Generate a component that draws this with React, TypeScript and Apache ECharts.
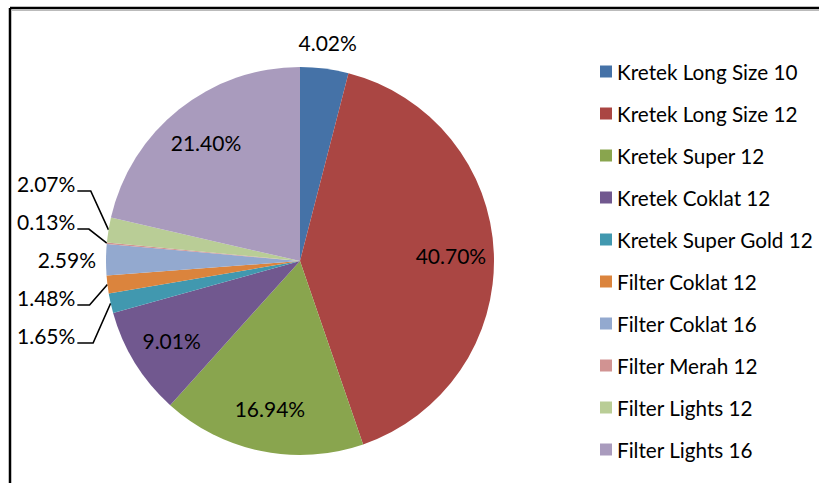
import React, { useEffect, useRef } from "react";
import * as echarts from "echarts";

const categories = [
  "Kretek Long Size 10",
  "Kretek Long Size 12",
  "Kretek Super 12",
  "Kretek Coklat 12",
  "Kretek Super Gold 12",
  "Filter Coklat 12",
  "Filter Coklat 16",
  "Filter Merah 12",
  "Filter Lights 12",
  "Filter Lights 16",
];
const shares = [4.02, 40.7, 16.94, 9.01, 1.65, 1.48, 2.59, 0.13, 2.07, 21.4];
const colors = [
  "#4572A7",
  "#AA4643",
  "#89A54E",
  "#71588F",
  "#4198AF",
  "#DB843D",
  "#93A9CF",
  "#D19392",
  "#B9CD96",
  "#A99BBD",
];
const insideLabelled = ["Kretek Long Size 12", "Kretek Super 12", "Kretek Coklat 12", "Filter Lights 16"];
const topLabelled = ["Kretek Long Size 10"];
const sideLabelled = ["Kretek Super Gold 12", "Filter Coklat 12", "Filter Coklat 16", "Filter Merah 12", "Filter Lights 12"];
const sideNoLine = ["Filter Coklat 16"];

const FONT = "Lato";
const FS = 21;
const LEGEND_FS = 20.7;
const fmt = (p: any) => `${Number(p.value).toFixed(2)}%`;
// trailing empty line lifts the text above the leader line, as in the reference
const sideFmt = (p: any) => `${Number(p.value).toFixed(2)}%\n`;

export default function App() {
  const ref = useRef<HTMLDivElement>(null);
  useEffect(() => {
    if (!ref.current) return;
    const chart = echarts.init(ref.current, null, { renderer: "svg" });
    const transparent = "rgba(0,0,0,0)";
    const hiddenSeries = (radius: number, names: string[]) => ({
      type: "pie",
      center: [300, 261],
      radius: [0, radius],
      startAngle: 90,
      clockwise: true,
      silent: true,
      legendHoverLink: false,
      itemStyle: { color: transparent, borderWidth: 0 },
      label: {
        show: false,
        position: "inside",
        fontFamily: FONT,
        fontSize: FS,
        color: "#000",
        formatter: fmt,
      },
      labelLine: { show: false },
      data: categories.map((name, i) => ({
        name,
        value: shares[i],
        label: { show: names.includes(name) },
      })),
    });
    chart.setOption({
      animation: false,
      backgroundColor: "#fff",
      textStyle: { fontFamily: FONT },
      legend: {
        orient: "vertical",
        left: 600,
        top: 61,
        padding: 0,
        itemWidth: 12,
        itemHeight: 12,
        itemGap: 21,
        icon: "rect",
        selectedMode: false,
        data: categories,
        textStyle: { fontFamily: FONT, fontSize: LEGEND_FS, color: "#000", lineHeight: 20 },
      },
      graphic: [
        { type: "line", shape: { x1: 10, y1: 8, x2: 819, y2: 8 }, style: { stroke: "#000", lineWidth: 2.5 } },
        { type: "line", shape: { x1: 10, y1: 8, x2: 10, y2: 483 }, style: { stroke: "#000", lineWidth: 2.5 } },
        { type: "line", shape: { x1: 12, y1: 10.5, x2: 819, y2: 10.5 }, style: { stroke: "#bbb", lineWidth: 1 } },
      ],
      series: [
        {
          type: "pie",
          left: 0,
          top: 0,
          width: 819,
          height: 362,
          center: [300, 261],
          radius: 194,
          startAngle: 90,
          clockwise: true,
          avoidLabelOverlap: true,
          itemStyle: { borderWidth: 0 },
          label: {
            show: false,
            position: "outside",
            alignTo: "edge",
            edgeDistance: 17,
            distanceToLabelLine: 2,
            fontFamily: FONT,
            fontSize: FS,
            lineHeight: 15,
            color: "#000",
            formatter: sideFmt,
          },
          labelLine: {
            show: true,
            length: 18,
            length2: 6,
            lineStyle: { color: "#000", width: 1.6 },
          },
          data: categories.map((name, i) => {
            const item: any = {
              name,
              value: shares[i],
              itemStyle: { color: colors[i] },
              label: { show: sideLabelled.includes(name) },
              labelLine: { show: sideLabelled.includes(name) },
            };
            if (sideNoLine.includes(name)) {
              item.label = { show: true, alignTo: "none", distanceToLabelLine: 0 };
              item.labelLine = { show: false, length: 0, length2: 10 };
            }
            return item;
          }),
        },
        hiddenSeries(296, insideLabelled),
        hiddenSeries(434, topLabelled),
      ],
    });
    return () => chart.dispose();
  }, []);
  return (
    <div
      ref={ref}
      style={{ position: "fixed", left: 0, top: 0, width: 819, height: 483 }}
    />
  );
}
